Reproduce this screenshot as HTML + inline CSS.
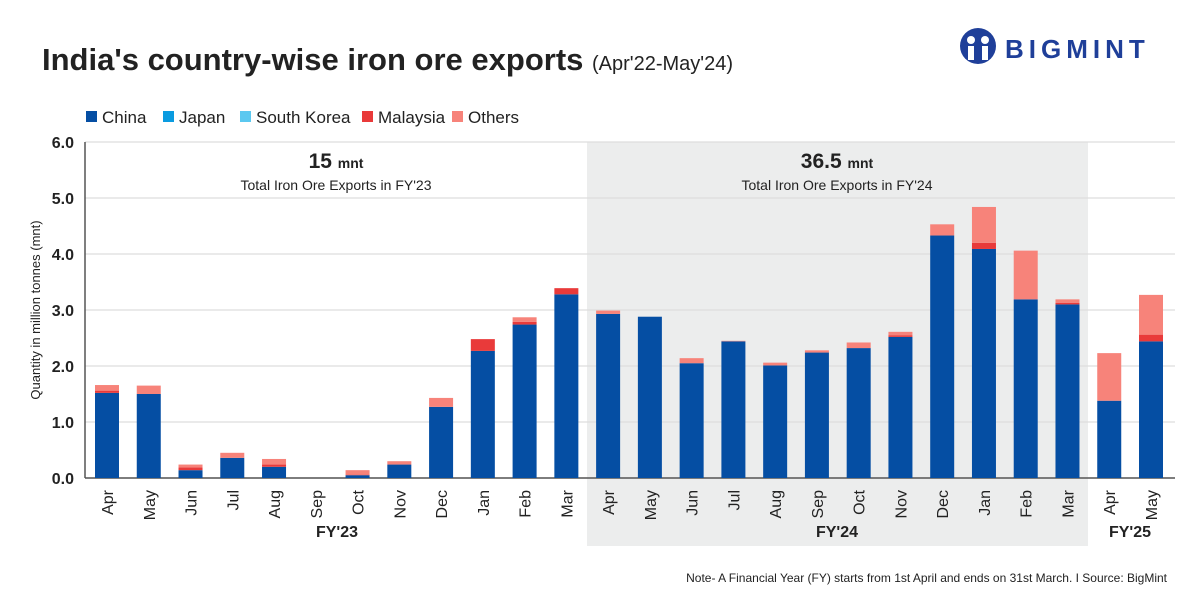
<!DOCTYPE html>
<html><head><meta charset="utf-8"><style>
body{margin:0;width:1200px;height:600px;background:#fff;font-family:"Liberation Sans",sans-serif;overflow:hidden}
</style></head><body>
<svg id="c" width="1200" height="600" xmlns="http://www.w3.org/2000/svg">
<text x="42" y="70" font-size="31" font-weight="bold" fill="#222">India's country-wise iron ore exports <tspan font-size="20" font-weight="normal">(Apr'22-May'24)</tspan></text>
<g>
<circle cx="978" cy="46" r="18" fill="#1f3f99"/>
<circle cx="971" cy="40" r="4" fill="#fff"/><circle cx="985" cy="40" r="4" fill="#fff"/>
<rect x="968" y="46" width="6" height="14" fill="#fff"/><rect x="982" y="46" width="6" height="14" fill="#fff"/>
<text x="1005" y="58" font-size="26" font-weight="bold" fill="#1f3f99" letter-spacing="5">BIGMINT</text>
</g>
<rect x="587" y="142" width="501" height="404" fill="#eceded"/>
<g id="legend" font-size="17" fill="#222"></g>
<g id="grid"></g><g id="bars"></g><g id="xl"></g>
<text transform="translate(40,310) rotate(-90)" text-anchor="middle" font-size="13" fill="#222">Quantity in million tonnes (mnt)</text>
<text x="336" y="168" text-anchor="middle" font-size="21" font-weight="bold" fill="#222">15 <tspan font-size="14">mnt</tspan></text>
<text x="336" y="190" text-anchor="middle" font-size="14" fill="#222">Total Iron Ore Exports in FY'23</text>
<text x="837" y="168" text-anchor="middle" font-size="21" font-weight="bold" fill="#222">36.5 <tspan font-size="14">mnt</tspan></text>
<text x="837" y="190" text-anchor="middle" font-size="14" fill="#222">Total Iron Ore Exports in FY'24</text>
<text x="337" y="537" text-anchor="middle" font-size="16" font-weight="bold" fill="#222">FY'23</text>
<text x="837" y="537" text-anchor="middle" font-size="16" font-weight="bold" fill="#222">FY'24</text>
<text x="1130" y="537" text-anchor="middle" font-size="16" font-weight="bold" fill="#222">FY'25</text>
<text x="1167" y="582" text-anchor="end" font-size="12" fill="#222">Note- A Financial Year (FY) starts from 1st April and ends on 31st March.  I  Source: BigMint</text>
</svg>
<script>
const months=["Apr","May","Jun","Jul","Aug","Sep","Oct","Nov","Dec","Jan","Feb","Mar","Apr","May","Jun","Jul","Aug","Sep","Oct","Nov","Dec","Jan","Feb","Mar","Apr","May"];
const china=[1.52,1.50,0.14,0.36,0.20,0,0.05,0.24,1.27,2.27,2.74,3.28,2.93,2.88,2.05,2.44,2.01,2.24,2.32,2.52,4.33,4.09,3.19,3.10,1.38,2.44];
const japan=[0,0,0,0,0,0,0,0,0,0,0,0,0,0,0,0,0,0,0,0,0,0,0,0,0,0];
const korea=[0,0,0,0,0,0,0,0,0,0,0,0,0,0,0,0,0,0,0,0,0,0,0,0,0,0];
const malaysia=[0.04,0,0.05,0,0.04,0,0.01,0,0,0.21,0.05,0.11,0,0,0,0,0,0,0,0.03,0,0.11,0,0.03,0,0.12];
const others=[0.10,0.15,0.05,0.09,0.10,0,0.08,0.06,0.16,0,0.08,0,0.06,0,0.09,0.01,0.05,0.04,0.10,0.06,0.20,0.64,0.87,0.06,0.85,0.71];
const yTicks=["0.0","1.0","2.0","3.0","4.0","5.0","6.0"];
const seriesNames=["China","Japan","South Korea","Malaysia","Others"];
const colors=["#054ea3","#0a9be0","#5bc8f0","#e93a3a","#f7837a"];
const NS="http://www.w3.org/2000/svg";
const y=v=>478-v*56, x=i=>107+i*41.76;
function mk(t,a,p){const e=document.createElementNS(NS,t);for(const k in a)e.setAttribute(k,a[k]);p.appendChild(e);return e;}
const grid=document.getElementById('grid');
yTicks.forEach((t,i)=>{const v=parseFloat(t);
 const l=mk('line',{x1:85,x2:1175,y1:y(v),y2:y(v),stroke:'#ddd','stroke-width':1.2},grid);
 
 
 const tx=mk('text',{x:74,y:y(v)+6,'text-anchor':'end','font-size':16,'font-weight':'bold',fill:'#222'},grid);tx.textContent=t;
 
 
});
const ax=mk('line',{x1:85,x2:85,y1:142,y2:478,stroke:'#555','stroke-width':1.5},grid);


const ax2=mk('line',{x1:85,x2:1175,y1:478,y2:478,stroke:'#555','stroke-width':1.5},grid);


const bars=document.getElementById('bars'),xl=document.getElementById('xl');
const series=[china,japan,korea,malaysia,others];
months.forEach((m,i)=>{let base=0;
 series.forEach((s,k)=>{const v=s[i];if(v>0){const r=mk('rect',{x:x(i)-12,width:24,y:y(base+v),height:v*56,fill:colors[k]},bars);
  
  }base+=v;});
 const t=mk('text',{transform:`translate(${x(i)+6},490) rotate(-90)`,'text-anchor':'end','font-size':16,fill:'#222'},xl);t.textContent=m;
 
 
});
const lg=document.getElementById('legend');const lx=[86,163,240,362,452];
seriesNames.forEach((n,k)=>{const g=mk('g',{},lg);
 
 
 mk('rect',{x:lx[k],y:111,width:11,height:11,fill:colors[k]},g);
 const t=mk('text',{x:lx[k]+16,y:123},g);t.textContent=n;});
</script>
</body></html>
